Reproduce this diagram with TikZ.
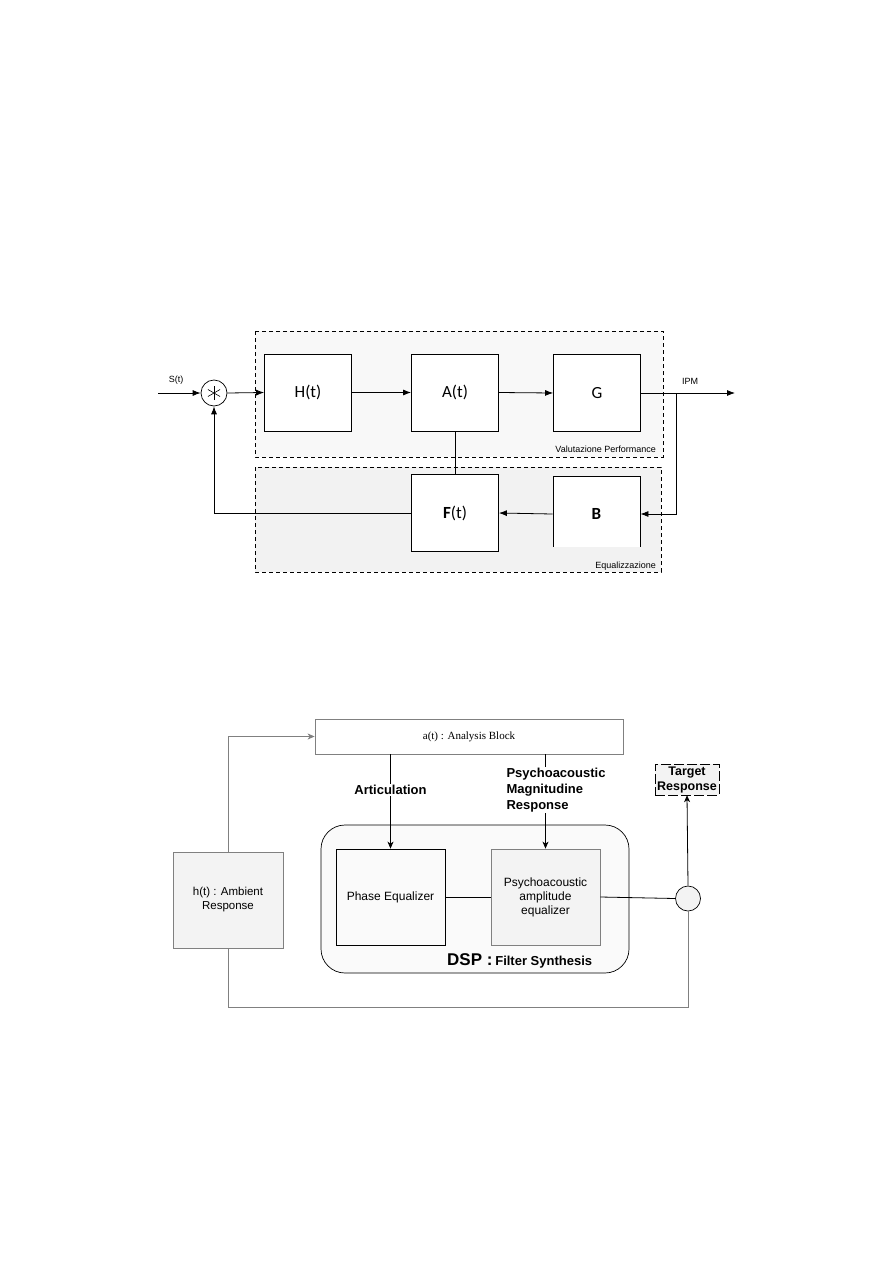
\documentclass[tikz,border=0pt]{standalone}
\usepackage{fontspec}
\setmainfont{Liberation Serif}
\setsansfont{Liberation Sans}
\newfontfamily\blockfont{Carlito}
\usetikzlibrary{arrows.meta}

\definecolor{perffill}{HTML}{F8F8F8}
\definecolor{eqfill}{HTML}{F2F2F2}
\definecolor{dspfill}{HTML}{FAFAFA}
\definecolor{boxfill}{HTML}{F3F3F3}

\begin{document}
\begin{tikzpicture}[
    x=1pt, y=-1pt,
    every node/.style={font=\sffamily},
    >={Latex[length=8pt,width=6pt]},
    block/.style={draw, fill=white, line width=0.8pt, minimum width=87,
        minimum height=77, inner sep=0pt, font=\blockfont\fontsize{17}{20}\selectfont},
    small/.style={font=\sffamily\fontsize{9}{10}\selectfont, inner sep=1pt},
    region/.style={draw, line width=0.7pt, dash pattern=on 4pt off 3pt},
    conn/.style={line width=0.8pt},
    graybox/.style={draw=gray, fill=boxfill, line width=0.8pt, minimum width=109,
        minimum height=96, inner sep=2pt, align=center},
    bold/.style={font=\sffamily\bfseries\fontsize{13}{16}\selectfont, fill=white, inner sep=1pt},
    tip/.style={-{Stealth[length=7pt,width=6pt,inset=2pt]}},
]
\useasboundingbox (0,0) rectangle (893,1263);

% === Loop: performance evaluation and equalization ===
\draw[region, fill=perffill] (255,331) rectangle (663,457);
\draw[region, fill=eqfill] (255,467) rectangle (661,572);

\node[circle, draw, fill=white, line width=0.7pt, minimum size=26, inner sep=0pt] (mix) at (214,393) {};
\foreach \ang in {90,30,150} {
    \draw[line width=0.6pt] ([shift={(\ang:7)}]mix.center) -- ([shift={(\ang+180:7)}]mix.center);
}

\node[block] (H) at (308,392.5) {H(t)};
\node[block] (A) at (455,392.5) {A(t)};
\node[block] (G) at (597,393) {G};
\node[block] (F) at (455,513) {{\bfseries F}(t)};
\node[block, minimum height=76] (B) at (596.5,514) {\bfseries B};

% labels of the two regions (the lower one hides the foot of B)
\node[small, anchor=base east] (perflbl) at (657,452) {Valutazione Performance};
\fill[eqfill] (548,547) rectangle (659.5,570.5);
\node[small, anchor=base east] (eqlbl) at (657,568) {Equalizzazione};

% input and output
\coordinate (in) at (158,393);
\coordinate (out) at (735,393);
\coordinate (br) at (676,393);
\node[small, above] (slbl) at (176,386) {S(t)};
\node[small, above] (ipmlbl) at (690,386) {IPM};

\draw[conn, ->] (in) -- (mix.west);
\draw[conn, ->] (mix.east) -- (H.west);
\draw[conn, ->] (H.east) -- (A.west);
\draw[conn, ->] (A.east) -- (G.west);
\draw[conn, ->] (G.east) -- (out);
\draw[conn, ->] (br) |- (B.east);
\draw[conn, ->] (B.west) -- (F.east);
\draw[conn] (A.south) -- (F.north);
\draw[conn, ->] (F.west) -| (mix.south);

% === Ambient equalization with DSP ===
\node[draw=gray, fill=white, line width=0.8pt, minimum width=308, minimum height=35,
    font=\rmfamily\fontsize{11}{13}\selectfont] (anal) at (469,736.5) {a(t) : Analysis Block};

\node[graybox, minimum width=110, font=\sffamily\fontsize{11.5}{14}\selectfont] (hbox) at (228,900) {h(t) : Ambient\\Response};

\node[draw, rounded corners=24pt, fill=dspfill, line width=0.7pt, minimum width=308,
    minimum height=148] (dsp) at (475,899) {};
\node[graybox, draw=black, fill=dspfill, font=\sffamily\fontsize{12}{14}\selectfont] (phase) at (390.5,897) {Phase Equalizer};
\node[graybox, font=\sffamily\fontsize{12}{14}\selectfont] (psy) at (545.5,897) {Psychoacoustic\\amplitude\\equalizer};
\node[anchor=base west, inner sep=0pt] (dsplbl) at (447,965)
    {{\bfseries\fontsize{17}{20}\selectfont DSP :} {\bfseries\fontsize{13}{15}\selectfont Filter Synthesis}};

\node[circle, draw, fill=boxfill, line width=0.7pt, minimum size=25, inner sep=0pt] (sum) at (688,898.5) {};
\node[draw, dash pattern=on 10pt off 3pt, fill=boxfill, minimum width=64, minimum height=31,
    inner sep=0.5pt, align=center, font=\sffamily\bfseries\fontsize{12.5}{15}\selectfont] (target) at (687,779.5) {Target\\Response};

\coordinate (loopbot) at (0,1007);

\draw[conn, gray, tip] (hbox.north) |- (anal.west);
\draw[conn, gray] (hbox.south) |- (loopbot -| sum.south) -- (sum.south);
\draw[conn, tip] (anal.south -| phase.north) -- (phase.north)
    node[bold, pos=0.38] (artlbl) {Articulation};
\draw[conn, tip] (anal.south -| psy.north) -- (psy.north);
\node[bold, align=left] (psylbl) at (556,790) {Psychoacoustic\\Magnitudine\\Response};
\draw[conn] (phase.east) -- (psy.west);
\draw[conn] (psy.east) -- (sum.west);
\draw[conn, tip] (sum.north) -- (target.south);

\end{tikzpicture}
\end{document}
